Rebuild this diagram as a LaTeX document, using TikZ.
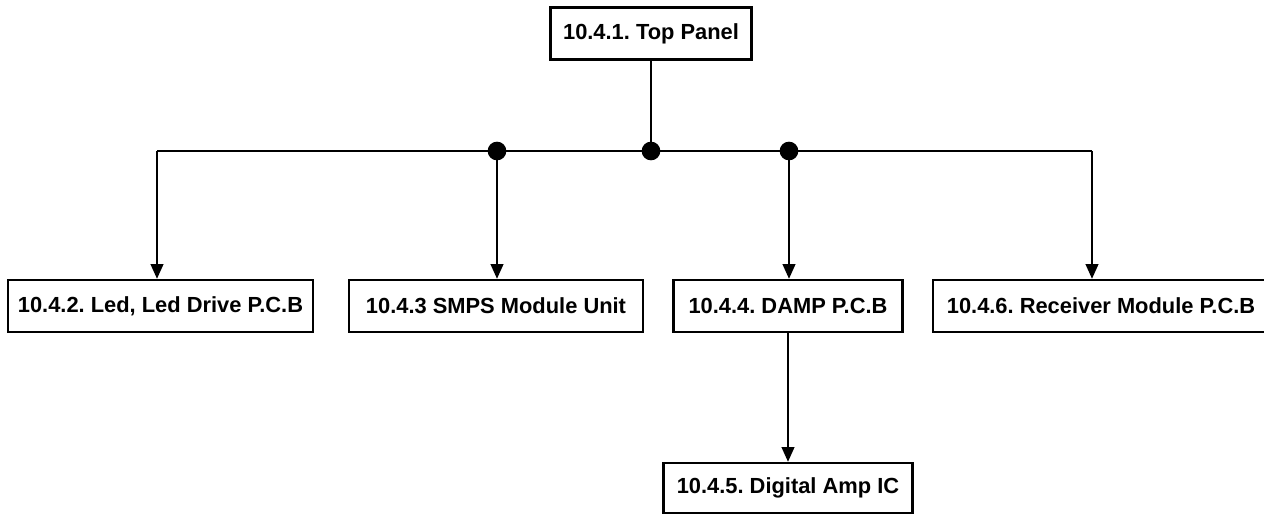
\documentclass[tikz,border=0pt]{standalone}
\usepackage{fontspec}
\setmainfont{Liberation Sans}
\usetikzlibrary{arrows.meta}
\frenchspacing

\begin{document}
\begin{tikzpicture}[
  x=0.75pt, y=-0.75pt,
  >={Triangle[length=11pt, width=9.5pt]},
  unit/.style={draw, line width=1.8pt, align=center, inner sep=0pt,
    minimum height=39pt, font=\fontsize{16.4}{19}\selectfont\bfseries},
  wire/.style={line width=1.4pt},
  feed/.style={wire, ->},
  dot/.style={circle, fill=black, inner sep=0pt, minimum size=14pt}
]
\useasboundingbox (0,0) rectangle (1264,516);
\clip (0,0) rectangle (1264,516);
% ---- the units ----
\node[unit, minimum width=150.75pt] (top) at (651,33.5) {10.4.1. Top Panel};
\node[unit, minimum width=228.75pt] (led) at (160.5,306) {10.4.2. Led, Led Drive P.C.B};
\node[unit, minimum width=220.5pt] (smps) at (496,306) {10.4.3 SMPS Module Unit};
\node[unit, minimum width=171.75pt] (damp) at (788,306) {10.4.4. DAMP P.C.B};
\node[unit, minimum width=252pt] (rcv) at (1101,306) {10.4.6. Receiver Module P.C.B};
\node[unit, minimum width=186.75pt, minimum height=37.5pt] (amp) at (788,488) {10.4.5. Digital Amp IC};
% ---- the bus ----
\coordinate (busl) at (157,151);
\coordinate (busr) at (1092,151);
\node[dot] (jtop) at (651,151) {};
\node[dot] (jsmps) at (497,151) {};
\node[dot] (jdamp) at (789,151) {};
\draw[wire] (top) -- (top |- jtop);
\draw[wire] (busl) -- (busr);
% ---- feeds down to the boards ----
\draw[feed] (busl) -- (busl |- led.north);
\draw[feed] (jsmps.center) -- (jsmps.center |- smps.north);
\draw[feed] (jdamp.center) -- (jdamp.center |- damp.north);
\draw[feed] (busr) -- (busr |- rcv.north);
\draw[feed] (damp) -- (amp);
\end{tikzpicture}
\end{document}
